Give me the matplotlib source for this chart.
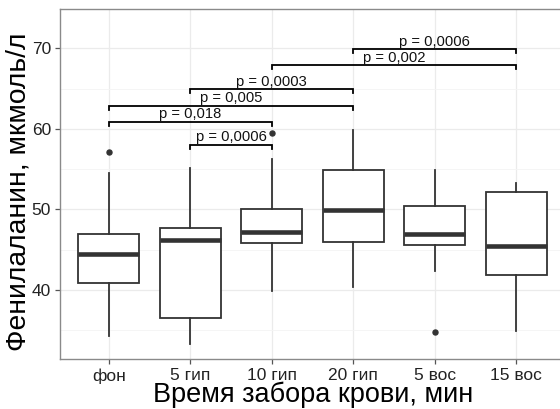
import matplotlib
matplotlib.use("Agg")
import matplotlib.pyplot as plt
from matplotlib.ticker import MultipleLocator

plt.rcParams["font.family"] = ["Liberation Sans", "DejaVu Sans"]

groups = ["фон", "5 гип", "10 гип", "20 гип", "5 вос", "15 вос"]
q1 = [40.9, 36.5, 45.8, 45.9, 45.6, 41.8]
med = [44.5, 46.2, 47.2, 49.9, 46.9, 45.5]
q3 = [46.9, 47.7, 50.0, 54.9, 50.4, 52.1]
whislo = [34.2, 33.3, 39.8, 40.4, 42.3, 34.9]
whishi = [54.5, 55.2, 56.2, 59.9, 54.9, 53.3]
fliers = [[57.1], [], [59.5], [], [34.7], []]

# significance brackets: (left group, right group), p label, bracket height
pairs = [(1, 2), (0, 2), (0, 3), (1, 3), (2, 5), (3, 5)]
p_labels = ["p = 0,0006", "p = 0,018", "p = 0,005", "p = 0,0003", "p = 0,002", "p = 0,0006"]
bracket_y = [58.0, 60.85, 62.9, 64.9, 67.9, 69.9]

fig = plt.figure(figsize=(5.6, 4.09), dpi=100)
ax = fig.add_axes([60/560, 50/409, 505/560, 350/409])

stats = []
for i, g in enumerate(groups):
    stats.append(dict(label=g, q1=q1[i], med=med[i], q3=q3[i],
                      whislo=whislo[i], whishi=whishi[i], fliers=fliers[i]))

dark = "#333333"
ax.bxp(stats, positions=range(len(groups)), widths=0.75, showcaps=False,
       patch_artist=True, zorder=3,
       boxprops=dict(facecolor="white", edgecolor=dark, linewidth=1.3),
       whiskerprops=dict(color=dark, linewidth=1.3),
       medianprops=dict(color=dark, linewidth=3.3, solid_capstyle="butt"),
       flierprops=dict(marker="o", markersize=3.6, markerfacecolor=dark,
                       markeredgecolor=dark))

tip = 0.5
for (a, b), lab, y in zip(pairs, p_labels, bracket_y):
    ax.plot([a, a, b, b], [y - tip, y, y, y - tip], color="black", lw=1.3,
            solid_joinstyle="miter", zorder=4)
    ax.text((a + b) / 2, y + 0.45, lab, ha="center", va="baseline",
            fontsize=10.6, color="#111111", zorder=5)

ax.set_xlim(-0.6, 5.6)
ax.set_ylim(31.4, 74.9)
ax.yaxis.set_major_locator(MultipleLocator(10))
ax.yaxis.set_minor_locator(MultipleLocator(5))
ax.set_xticks(range(len(groups)))
ax.set_xticklabels(groups)

ax.grid(True, which="major", color="#ebebeb", lw=0.9, zorder=0)
ax.grid(True, which="minor", axis="y", color="#f4f4f4", lw=0.6, zorder=0)
ax.set_axisbelow(True)

for s in ax.spines.values():
    s.set_color("#8a8a8a")
    s.set_linewidth(1.0)

ax.tick_params(axis="both", which="major", length=3.5, width=0.9, color="#555555",
               labelsize=12.5, labelcolor="#222222", pad=3)
ax.tick_params(axis="y", which="minor", length=0)

fig.text(313/560, 1 - 395/409, "Время забора крови, мин", fontsize=19.5,
         ha="center", va="center")
fig.text(19/560, 1 - 192/409, "Фенилаланин, мкмоль/л", fontsize=20.3,
         ha="center", va="center", rotation=90)

fig.savefig("out.png", dpi=100)
